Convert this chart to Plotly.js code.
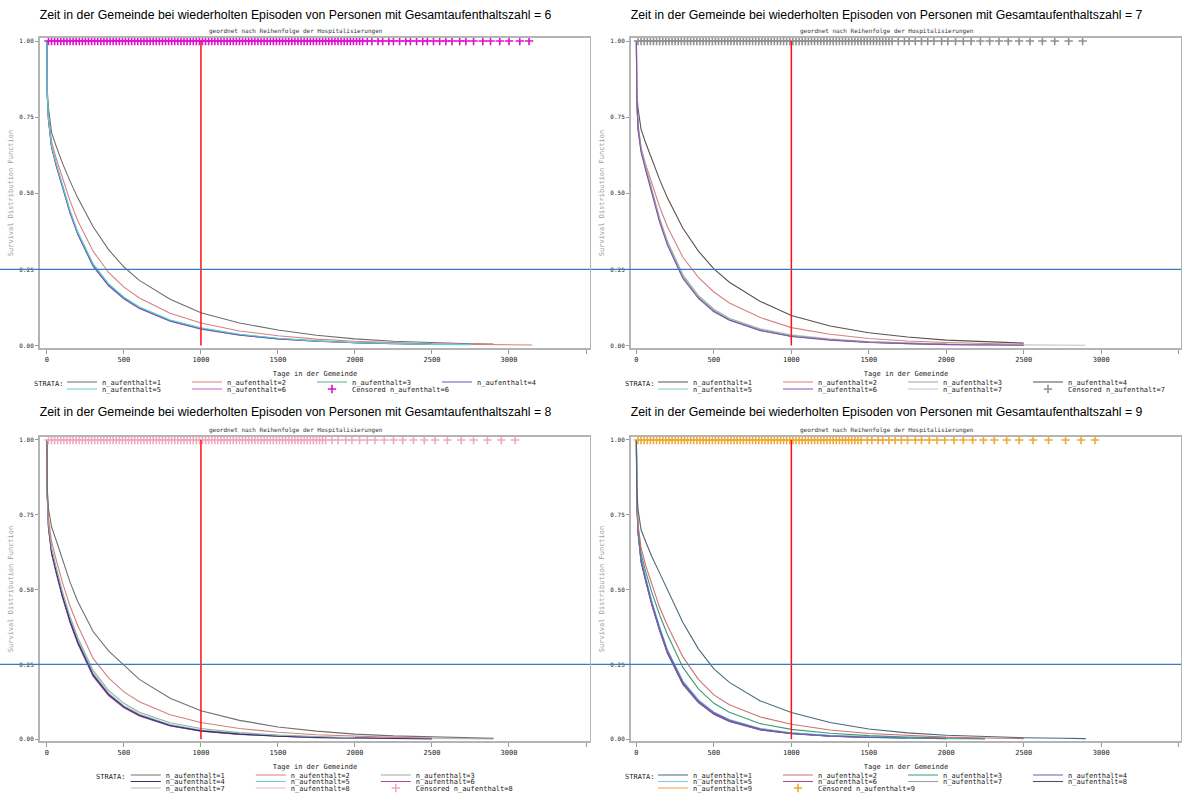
<!DOCTYPE html>
<html><head><meta charset="utf-8">
<script src="https://cdn.plot.ly/plotly-3.0.1.min.js"></script>
<style>
body{margin:0;background:#fff;}
.p{position:absolute;overflow:hidden;}
</style></head>
<body>
<div id="g6" class="p" style="left:0;top:0;width:591px;height:397px"></div>
<div id="g7" class="p" style="left:591px;top:0;width:591px;height:397px"></div>
<div id="g8" class="p" style="left:0;top:397px;width:591px;height:396px"></div>
<div id="g9" class="p" style="left:591px;top:397px;width:591px;height:396px"></div>
<script>
// ---------- shared ----------
const T = [0,2,10,30,60,100,150,200,300,400,500,600,800,1000,1250,1500,1750,2000,2250,2500,2750,2900,3150];
const xTicks = [0,500,1000,1500,2000,2500,3000,3500];
const xTickText = ['0','500','1000','1500','2000','2500','3000','3500'];
const yTicks = [0,0.25,0.5,0.75,1];
const yTickText = ['0.00','0.25','0.50','0.75','1.00'];
const strataLabels = ['n_aufenthalt=1','n_aufenthalt=2','n_aufenthalt=3','n_aufenthalt=4','n_aufenthalt=5','n_aufenthalt=6','n_aufenthalt=7','n_aufenthalt=8','n_aufenthalt=9'];
const panelTitles = [
 'Zeit in der Gemeinde bei wiederholten Episoden von Personen mit Gesamtaufenthaltszahl = 6',
 'Zeit in der Gemeinde bei wiederholten Episoden von Personen mit Gesamtaufenthaltszahl = 7',
 'Zeit in der Gemeinde bei wiederholten Episoden von Personen mit Gesamtaufenthaltszahl = 8',
 'Zeit in der Gemeinde bei wiederholten Episoden von Personen mit Gesamtaufenthaltszahl = 9'];
const subTitle = 'geordnet nach Reihenfolge der Hospitalisierungen';
const xTitle = 'Tage in der Gemeinde';
const yTitle = 'Survival Distribution Function';
const legendHead = 'STRATA:';
const refDay = 1000;
const refSurv = 0.25;

// ---------- panel 6 (values at T) ----------
const p6_s1 = [1,.84,.78,.70,.655,.60,.54,.485,.39,.315,.258,.214,.152,.108,.074,.051,.034,.022,.014,.009,.006,.005];
const p6_s2 = [1,.83,.76,.67,.615,.55,.475,.41,.31,.24,.192,.156,.106,.074,.048,.032,.021,.014,.009,.006,.004,.003,.002];
const p6_s3 = [1,.83,.745,.655,.597,.527,.442,.372,.267,.202,.158,.126,.083,.057,.036,.023,.015,.009,.006,.004];
const p6_s4 = [1,.82,.74,.652,.592,.522,.437,.367,.262,.198,.155,.123,.081,.055,.035,.022,.014,.009,.006,.004];
const p6_s5 = [1,.83,.745,.657,.598,.528,.443,.373,.268,.203,.159,.127,.084,.058,.037,.024,.015,.010,.006,.004,.003];
const p6_s6 = [1,.82,.74,.65,.59,.52,.435,.365,.26,.196,.153,.122,.080,.054,.034,.022,.014,.009,.006];
const p6_cens = [10,30,50,70,90,110,130,150,170,190,210,230,250,270,290,310,330,350,370,390,410,430,450,470,490,510,530,550,570,590,610,630,650,670,690,710,730,750,770,790,810,830,850,870,890,910,930,950,970,990,1010,1030,1050,1070,1090,1110,1130,1150,1170,1190,1210,1230,1250,1270,1290,1310,1330,1350,1370,1390,1410,1430,1450,1470,1490,1510,1530,1550,1570,1590,1610,1630,1650,1670,1690,1710,1730,1750,1770,1790,1810,1830,1850,1870,1890,1910,1930,1950,1970,1990,2010,2030,2050,2080,2110,2150,2180,2220,2250,2290,2330,2360,2400,2440,2470,2510,2550,2590,2630,2680,2720,2770,2830,2880,2940,3000,3070,3130];

// ---------- panel 7 ----------
const p7_s1 = [1,.84,.78,.71,.665,.61,.545,.485,.385,.31,.252,.208,.145,.099,.064,.042,.028,.018,.012,.008];
const p7_s2 = [1,.83,.73,.65,.595,.53,.455,.39,.29,.224,.176,.14,.092,.059,.037,.023,.015,.010,.006,.004];
const p7_s3 = [1,.82,.72,.645,.585,.505,.415,.34,.23,.162,.117,.088,.053,.033,.02,.012,.007,.004,.003,.002];
const p7_s4 = [1,.82,.715,.64,.58,.50,.41,.335,.225,.158,.114,.085,.051,.031,.019,.011,.006,.004];
const p7_s5 = [1,.81,.715,.642,.582,.502,.412,.337,.227,.16,.116,.087,.052,.032,.019,.011,.007,.004,.002];
const p7_s6 = [1,.82,.71,.635,.575,.495,.405,.33,.22,.155,.111,.083,.049,.030,.018,.010,.006,.003,.002,.001];
const p7_s7 = [1,.83,.72,.648,.588,.508,.418,.343,.233,.165,.12,.09,.055,.035,.022,.013,.008,.005,.003,.002,.002,.001];
const p7_cens = [10,30,50,70,90,110,130,150,170,190,210,230,250,270,290,310,330,350,370,390,410,430,450,470,490,510,530,550,570,590,610,630,650,670,690,710,730,750,770,790,810,830,850,870,890,910,930,950,970,990,1010,1030,1050,1070,1090,1110,1130,1150,1170,1190,1210,1230,1250,1270,1290,1310,1330,1350,1370,1390,1410,1430,1450,1470,1490,1510,1530,1550,1570,1590,1610,1630,1650,1690,1730,1760,1800,1840,1880,1920,1970,2010,2060,2110,2160,2220,2280,2340,2400,2470,2540,2620,2700,2790,2880];

// ---------- panel 8 ----------
const p8_s1 = [1,.84,.77,.71,.665,.60,.525,.46,.36,.295,.246,.20,.137,.095,.063,.041,.027,.017,.011,.007,.004,.003];
const p8_s2 = [1,.83,.74,.66,.60,.525,.445,.38,.27,.205,.158,.125,.082,.056,.036,.023,.015,.010,.006,.004];
const p8_s3 = [1,.82,.72,.64,.575,.495,.41,.34,.23,.163,.12,.09,.055,.036,.022,.014,.009,.005];
const p8_s4 = [1,.82,.71,.625,.56,.48,.395,.325,.215,.15,.108,.08,.046,.028,.017,.010,.006,.004,.002,.001];
const p8_s5 = [1,.81,.712,.628,.563,.483,.398,.328,.218,.152,.110,.082,.047,.029,.018,.011,.006,.004];
const p8_s6 = [1,.82,.705,.62,.555,.475,.39,.32,.21,.146,.105,.078,.044,.027,.016,.010,.005,.003];
const p8_s7 = [1,.82,.715,.632,.567,.487,.402,.332,.222,.155,.112,.084,.049,.031,.019,.012,.007,.004,.003,.002,.001,.001];
const p8_s8 = [1,.81,.708,.622,.558,.478,.393,.323,.213,.148,.107,.079,.045,.028,.017,.010,.006];
const p8_cens = [10,30,50,70,90,110,130,150,170,190,210,230,250,270,290,310,330,350,370,390,410,430,450,470,490,510,530,550,570,590,610,630,650,670,690,710,730,750,770,790,810,830,850,870,890,910,930,950,970,990,1010,1030,1050,1070,1090,1110,1130,1150,1170,1190,1210,1230,1250,1270,1290,1310,1330,1350,1370,1390,1410,1430,1450,1470,1490,1510,1530,1550,1570,1590,1610,1630,1650,1670,1690,1710,1730,1750,1770,1790,1810,1850,1890,1940,1980,2030,2080,2130,2190,2250,2310,2380,2450,2520,2600,2690,2770,2860,2950,3040];

// ---------- panel 9 ----------
const p9_s1 = [1,.84,.77,.70,.66,.61,.555,.50,.39,.302,.235,.19,.128,.089,.056,.034,.021,.013,.008,.005,.003,.002];
const p9_s2 = [1,.82,.72,.64,.58,.515,.44,.38,.275,.20,.148,.115,.074,.05,.031,.019,.012,.007,.004,.002];
const p9_s3 = [1,.82,.71,.62,.56,.49,.415,.35,.24,.168,.12,.09,.052,.033,.02,.012,.007,.004,.002];
const p9_s4 = [1,.81,.70,.60,.535,.455,.37,.295,.19,.128,.088,.063,.034,.02,.011,.006,.004,.002];
const p9_s5 = [1,.81,.705,.605,.54,.46,.375,.30,.195,.132,.091,.066,.036,.021,.012,.007,.004,.003,.002];
const p9_s6 = [1,.80,.695,.595,.53,.45,.365,.29,.185,.124,.085,.061,.032,.019,.010,.006,.003];
const p9_s7 = [1,.81,.70,.602,.537,.457,.372,.297,.192,.130,.089,.064,.035,.021,.012,.007,.004,.002,.001];
const p9_s8 = [1,.80,.69,.592,.527,.447,.362,.287,.183,.122,.083,.059,.031,.018,.010,.006];
const p9_s9 = [1,.81,.70,.598,.533,.453,.368,.293,.188,.126,.087,.062,.033,.020,.011,.007,.004];
const p9_cens = [10,30,50,70,90,110,130,150,170,190,210,230,250,270,290,310,330,350,370,390,410,430,450,470,490,510,530,550,570,590,610,630,650,670,690,710,730,750,770,790,810,830,850,870,890,910,930,950,970,990,1010,1030,1050,1070,1090,1110,1130,1150,1170,1190,1210,1230,1250,1270,1290,1310,1330,1350,1370,1390,1410,1430,1450,1490,1520,1560,1590,1630,1670,1710,1750,1800,1840,1890,1940,1990,2050,2110,2170,2240,2310,2390,2470,2560,2660,2770,2870,2960];

// ---------- styling ----------
const MONO = '"DejaVu Sans Mono", monospace';
const SANS = '"Liberation Sans", Arial, sans-serif';

const panels = [
 {div:'g6', n:6, title:panelTitles[0], curves:[p6_s1,p6_s2,p6_s3,p6_s4,p6_s5,p6_s6], cens:p6_cens,
  colors:['#6e6e6e','#d88080','#58b088','#5a5ab4','#60d0d0','#d060c0'], censColor:'#e010d0',
  rows:[[0,1,2,3],[4,5,-1]], top:true, xr:[-45,3526], lx:0.04, sx:-0.015, drawOrder:[0,1,5,2,3,4]},
 {div:'g7', n:7, title:panelTitles[1], curves:[p7_s1,p7_s2,p7_s3,p7_s4,p7_s5,p7_s6,p7_s7], cens:p7_cens,
  colors:['#5e5050','#d88080','#a0a0a0','#505050','#80d0b0','#9050b0','#c4c4c4'], censColor:'#909090',
  rows:[[0,1,2,3],[4,5,6,-1]], top:true, xr:[-35,3515], lx:0.04, sx:-0.015, drawOrder:[0,1,6,2,3,4,5]},
 {div:'g8', n:8, title:panelTitles[2], curves:[p8_s1,p8_s2,p8_s3,p8_s4,p8_s5,p8_s6,p8_s7,p8_s8], cens:p8_cens,
  colors:['#707070','#d08080','#9ab09a','#303078','#60d0d0','#c040a0','#b8b8b8','#f4b0c4'], censColor:'#f2a8bc',
  rows:[[0,1,2],[3,4,5],[6,7,-1]], top:false, xr:[-45,3526], lx:0.156, sx:0.098, drawOrder:[7,6,5,4,3,2,1,0]},
 {div:'g9', n:9, title:panelTitles[3], curves:[p9_s1,p9_s2,p9_s3,p9_s4,p9_s5,p9_s6,p9_s7,p9_s8,p9_s9], cens:p9_cens,
  colors:['#4a6878','#d07070','#3a9a7a','#6060b0','#80c8f0','#a050a0','#a0a0a0','#505070','#f0a030'], censColor:'#f0a830',
  rows:[[0,1,2,3],[4,5,6,7],[8,-1]], top:false, xr:[-35,3515], lx:0.04, sx:-0.015, drawOrder:[8,7,6,5,4,3,2,1,0]}
];

function build(p){
  const H = p.top ? 397 : 396;
  const mt = p.top ? 38 : 40;
  const plotH = p.top ? 310 : 304;
  const mb = H - mt - plotH;
  const legIds = ['legend','legend2','legend3'];
  const rowOf = {};
  p.rows.forEach((r,ri)=>r.forEach(i=>{rowOf[i]=ri;}));
  const data = [];
  p.drawOrder.forEach(i=>{
    const c = p.curves[i];
    data.push({type:'scatter', mode:'lines', x:T.slice(0,c.length), y:c,
      name:strataLabels[i], legendrank:i+1, line:{color:p.colors[i], width:1.1},
      legend:legIds[rowOf[i]], hoverinfo:'skip'});
  });
  data.push({type:'scatter', mode:'markers', x:p.cens, y:p.cens.map(()=>1),
    name:'Censored '+strataLabels[p.n-1], legendwidth:100, legendrank:100,
    marker:{symbol:'cross-thin', size:6, color:p.censColor, line:{width:1.6, color:p.censColor}},
    legend:legIds[rowOf[-1]], hoverinfo:'skip', cliponaxis:false});

  const rowOff = p.top ? [34,41] : [34,40.5,47];
  const layout = {
    width:591, height:H, margin:{l:40, r:1, t:mt, b:mb, pad:0, autoexpand:false},
    paper_bgcolor:'#ffffff', plot_bgcolor:'#ffffff',
    title:{text:p.title, font:{family:SANS, size:12.3, color:'#000'}, x:0.5, xref:'container', xanchor:'center',
           y:1-15/H, yref:'container', yanchor:'middle'},
    xaxis:{range:p.xr, tickvals:xTicks, ticktext:xTickText, ticks:'outside', ticklen:4, tickwidth:1, tickcolor:'#999',
      showgrid:false, zeroline:false, showline:true, linecolor:'#b4b4b4', linewidth:2, mirror:true,
      tickfont:{family:MONO, size:7, color:'#222'},
      title:{text:xTitle, font:{family:MONO, size:7, color:'#222'}, standoff:8}},
    yaxis:{range:[p.top?-0.008:-0.006, 1.01], tickvals:yTicks, ticktext:yTickText, ticks:'outside', ticklen:3, tickwidth:1, tickcolor:'#999',
      showgrid:false, zeroline:false, showline:true, linecolor:'#b4b4b4', linewidth:2, mirror:true,
      tickfont:{family:MONO, size:6, color:'#222'},
      title:{text:yTitle, font:{family:MONO, size:7, color:'#9a9a9a'}, standoff:5}},
    showlegend:true,
    shapes:[
      {type:'line', xref:'x', yref:'y', x0:refDay, x1:refDay, y0:0, y1:1, line:{color:'#ff1010', width:1.5}},
      {type:'line', xref:'paper', yref:'y', x0:-40/550, x1:1, y0:refSurv, y1:refSurv, line:{color:'#3a78c8', width:1.2}}
    ],
    annotations:[
      {text:subTitle, xref:'paper', yref:'paper', x:(295.5-40)/550, y:1+7/plotH, xanchor:'center', yanchor:'middle',
       showarrow:false, font:{family:MONO, size:6, color:'#333'}},
      {text:legendHead, xref:'paper', yref:'paper', x:p.sx, y:-(rowOff[0]+2)/plotH, xanchor:'left', yanchor:'middle',
       showarrow:false, font:{family:MONO, size:7, color:'#222'}}
    ]
  };
  p.rows.forEach((r,ri)=>{
    layout[legIds[ri]] = {orientation:'h', x:p.lx, xanchor:'left', y:-rowOff[ri]/plotH, yanchor:'middle',
      bgcolor:'rgba(0,0,0,0)', borderwidth:0, font:{family:MONO, size:7, color:'#222'},
      entrywidth:80, entrywidthmode:'pixels', itemwidth:30, traceorder:'normal', itemclick:false, itemdoubleclick:false};
  });
  Plotly.newPlot(p.div, data, layout, {staticPlot:true, displayModeBar:false});
}
panels.forEach(build);
</script>
</body></html>
